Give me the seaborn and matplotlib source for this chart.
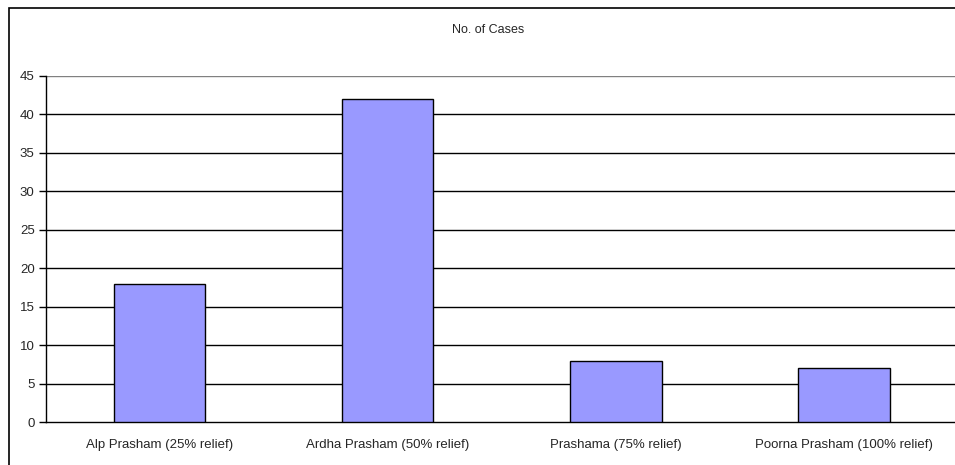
import matplotlib
matplotlib.use("Agg")
import matplotlib.pyplot as plt
import seaborn as sns
import pandas as pd
from matplotlib.patches import Rectangle

categories = ["Alp Prasham (25% relief)", "Ardha Prasham (50% relief)",
              "Prashama (75% relief)", "Poorna Prasham (100% relief)"]
cases = [18, 42, 8, 7]
yticks = [0, 5, 10, 15, 20, 25, 30, 35, 40, 45]

sns.set_style("white")
plt.rcParams['font.family'] = ['Liberation Sans', 'DejaVu Sans']

df = pd.DataFrame({"cat": categories, "val": cases})

fig = plt.figure(figsize=(9.55, 4.65), dpi=100)
ax = fig.add_axes([45.7/955, 42.7/465, (958-45.7)/955, (422.3-75.7)/465])

sns.barplot(data=df, x="cat", y="val", ax=ax, width=0.4, color="#9999FF",
            edgecolor="black", linewidth=1, saturation=1, zorder=3)

ax.set_ylim(0, 45)
ax.set_xlim(-0.5, 3.5)
ax.set_yticks(yticks)
ax.set_yticklabels([str(t) for t in yticks], fontsize=9.5)
ax.set_xticks(range(len(categories)))
ax.set_xticklabels(categories, fontsize=9.5)
ax.set_xticks([-0.5, 0.5, 1.5, 2.5, 3.5], minor=True)
ax.tick_params(axis='x', which='major', length=0, pad=12)
ax.tick_params(axis='x', which='minor', length=5, width=1, color='black', direction='out')
ax.tick_params(axis='y', length=5, width=1, color='black', direction='out', pad=3, left=True)
ax.set_xlabel("")
ax.set_ylabel("")

for t in yticks[1:]:
    ax.axhline(t, color='black' if t < 45 else '#808080', linewidth=1, zorder=1)

for s in ['top', 'right']:
    ax.spines[s].set_visible(False)
for s in ['left', 'bottom']:
    ax.spines[s].set_color('black')
    ax.spines[s].set_linewidth(1)

fig.text(488/955, 1 - 30/465, "No. of Cases", ha='center', va='center', fontsize=9)

border = Rectangle((8.5/955, -0.05), 1.1, 1 - 8.5/465 + 0.05, transform=fig.transFigure,
                   fill=False, edgecolor='black', linewidth=1.2)
fig.patches.append(border)

fig.savefig("out.png", dpi=100)
